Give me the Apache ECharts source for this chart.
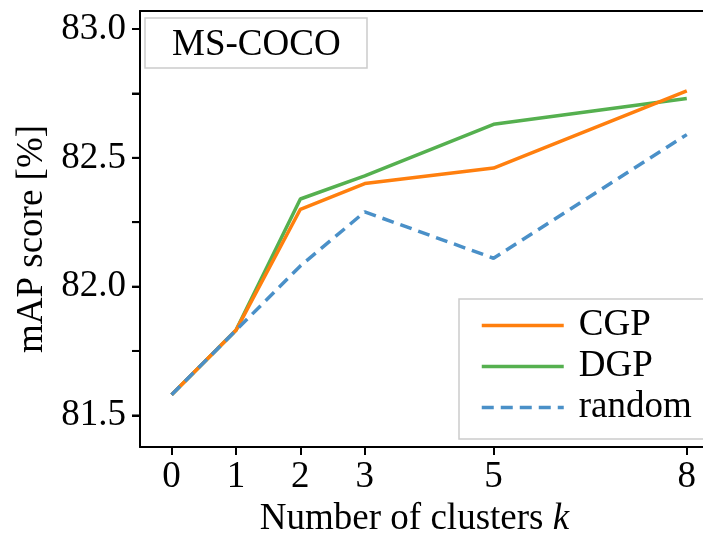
<!DOCTYPE html>
<html>
<head>
<meta charset="utf-8">
<script src="https://cdn.jsdelivr.net/npm/echarts@6/dist/echarts.min.js"></script>
<style>
  html, body { margin: 0; padding: 0; background: #fff; }
  #chart { width: 703px; height: 535px; }
</style>
</head>
<body>
<div id="chart"></div>
<script>
// number of clusters k
var kValues = [0, 1, 2, 3, 5, 8]
// mAP score [%]
var cgpScores = [81.58, 81.83, 82.30, 82.40, 82.46, 82.76]
var dgpScores = [81.58, 81.83, 82.34, 82.43, 82.63, 82.73]
var randomScores = [81.58, 81.83, 82.08, 82.29, 82.11, 82.59]
// axis ticks
var yTicks = [81.5, 81.75, 82.0, 82.25, 82.5, 82.75, 83.0]
var yTickLabels = [81.5, 82.0, 82.5, 83.0]

var font = '"Liberation Serif", "Times New Roman", serif'
var xMin = -0.49, xMax = 8.345
var yMin = 81.377, yMax = 83.07

function spine() {
  return { show: true, onZero: false, lineStyle: { color: '#000', width: 2 } }
}

function pairs(ys) {
  return kValues.map(function(k, i) { return [k, ys[i]] })
}

var myChart = echarts.init(document.getElementById('chart'))

var option = {
  animation: false,
  backgroundColor: '#fff',
  title: {
    text: 'MS-COCO',
    left: 145,
    top: 18,
    padding: [7, 27, 3, 27],
    borderColor: '#cccccc',
    borderWidth: 1.5,
    backgroundColor: '#fff',
    textStyle: {
      fontFamily: font,
      fontSize: 37,
      fontWeight: 'normal',
      color: '#000',
      lineHeight: 40
    }
  },
  legend: {
    data: ['CGP', 'DGP', 'random'],
    orient: 'vertical',
    left: 459,
    top: 299,
    padding: [6, 40, 11, 21],
    itemGap: 0,
    itemWidth: 82,
    itemHeight: 3,
    borderColor: '#cccccc',
    borderWidth: 1.5,
    backgroundColor: '#fff',
    itemStyle: { color: 'transparent', borderWidth: 0 },
    lineStyle: { width: 3.5 },
    textStyle: {
      fontFamily: font,
      fontSize: 37,
      color: '#000',
      lineHeight: 41,
      padding: [0, 0, 0, 10]
    }
  },
  grid: {
    left: 140,
    top: 11,
    right: -6,
    bottom: 88,
    outerBoundsMode: 'none',
    show: false
  },
  xAxis: [
    {
      type: 'value',
      min: xMin,
      max: xMax,
      name: 'Number of clusters {i|k}',
      nameLocation: 'middle',
      nameGap: 53,
      nameTextStyle: {
        fontFamily: font,
        fontSize: 37,
        color: '#000',
        padding: [0, 20, 0, 0],
        rich: {
          i: { fontFamily: font, fontSize: 37, fontStyle: 'italic', color: '#000' }
        }
      },
      axisLine: spine(),
      axisTick: {
        show: true,
        length: 8,
        customValues: kValues,
        lineStyle: { color: '#000', width: 2 }
      },
      axisLabel: {
        customValues: kValues,
        margin: 12,
        fontFamily: font,
        fontSize: 37,
        color: '#000'
      },
      splitLine: { show: false }
    },
    {
      // top frame line only
      type: 'value',
      position: 'top',
      min: xMin,
      max: xMax,
      axisLine: spine(),
      axisTick: { show: false },
      axisLabel: { show: false },
      splitLine: { show: false }
    }
  ],
  yAxis: [
    {
      type: 'value',
      min: yMin,
      max: yMax,
      name: 'mAP score [%]',
      nameLocation: 'middle',
      nameGap: 84,
      nameTextStyle: {
        fontFamily: font,
        fontSize: 37,
        color: '#000',
        padding: [0, 20, 0, 0]
      },
      axisLine: spine(),
      axisTick: {
        show: true,
        length: 8,
        customValues: yTicks,
        lineStyle: { color: '#000', width: 2 }
      },
      axisLabel: {
        customValues: yTickLabels,
        margin: 14,
        fontFamily: font,
        fontSize: 37,
        color: '#000',
        formatter: function(v) { return v.toFixed(1) }
      },
      splitLine: { show: false }
    },
    {
      // tick marks only
      type: 'value',
      position: 'left',
      min: yMin,
      max: yMax,
      axisLine: { show: false, onZero: false },
      axisTick: {
        show: true,
        length: 8,
        customValues: yTicks,
        lineStyle: { color: '#000', width: 2 }
      },
      axisLabel: { show: false },
      splitLine: { show: false }
    }
  ],
  series: [
    {
      name: 'CGP',
      type: 'line',
      z: 3,
      data: pairs(cgpScores),
      symbol: 'none',
      color: '#ff7f0e',
      lineStyle: { width: 3.5, color: '#ff7f0e' }
    },
    {
      name: 'DGP',
      type: 'line',
      z: 2,
      data: pairs(dgpScores),
      symbol: 'none',
      color: '#55b04f',
      lineStyle: { width: 3.5, color: '#55b04f' }
    },
    {
      name: 'random',
      type: 'line',
      z: 4,
      data: pairs(randomScores),
      symbol: 'none',
      color: '#4a90c8',
      lineStyle: { width: 3.5, color: '#4a90c8', type: [12, 7] }
    },
    {
      // y tick marks, placed on the left frame through the axes
      name: 'yticks',
      type: 'scatter',
      z: 10,
      silent: true,
      clip: false,
      data: yTicks.map(function(v) { return [xMin, v] }),
      symbol: 'rect',
      symbolSize: [8, 2],
      symbolOffset: [-4, 0],
      itemStyle: { color: '#000' }
    }
  ]
}

myChart.setOption(option)
</script>
</body>
</html>
